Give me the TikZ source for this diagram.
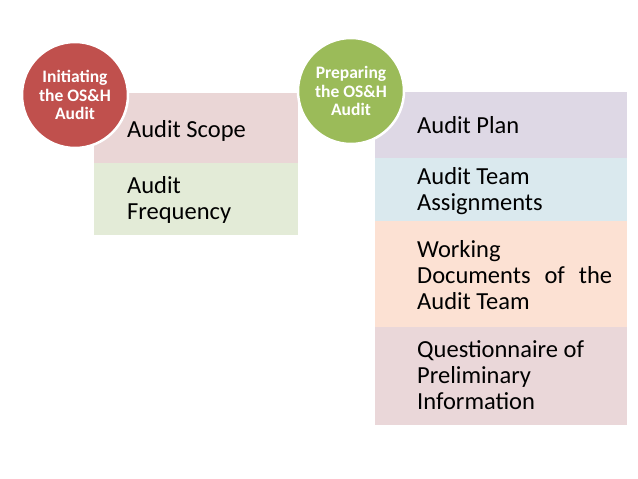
\documentclass[tikz,border=0pt]{standalone}
\usepackage{fontspec}
\setmainfont{Carlito}
\definecolor{redC}{RGB}{192,80,77}
\definecolor{greenC}{RGB}{155,187,89}
\definecolor{scopeF}{RGB}{234,214,214}
\definecolor{freqF}{RGB}{227,235,215}
\definecolor{planF}{RGB}{222,216,229}
\definecolor{teamF}{RGB}{218,233,238}
\definecolor{workF}{RGB}{252,225,211}
\definecolor{questF}{RGB}{234,215,217}
\begin{document}
\begin{tikzpicture}[x=1pt,y=-1pt,
  box/.style={draw=none,inner sep=0pt,anchor=north west},
  circ/.style={circle,draw=white,line width=2.5pt,minimum size=106pt,inner sep=0pt,text=white,font=\fontsize{17.5}{18.5}\selectfont\bfseries,align=center},
  txt/.style={anchor=base west,inner sep=0pt,font=\fontsize{24.5}{26.3}\selectfont,align=left}]
\useasboundingbox (0,0) rectangle (638,479);
\fill[white] (0,0) rectangle (638,479);
% left group
\node[box,fill=scopeF,minimum width=204pt,minimum height=70pt] (scope) at (94,93) {};
\node[box,fill=freqF,minimum width=204pt,minimum height=72pt] (freq) at (94,163) {};
\node[circ,fill=redC] (init) at (75,95) {Initiating\\the OS\&H\\Audit};
\node[txt] (tscope) at (127,137) {Audit Scope};
\node[txt] (tfreq) at (127,219.3) {Audit\\Frequency};
% right group
\node[box,fill=planF,minimum width=252pt,minimum height=66pt] (plan) at (375,92) {};
\node[box,fill=teamF,minimum width=252pt,minimum height=63pt] (team) at (375,158) {};
\node[box,fill=workF,minimum width=252pt,minimum height=106pt] (work) at (375,221) {};
\node[box,fill=questF,minimum width=252pt,minimum height=98pt] (quest) at (375,327) {};
\node[circ,fill=greenC] (prep) at (351,91) {Preparing\\the OS\&H\\Audit};
\node[txt] (tplan) at (417,133) {Audit Plan};
\node[txt] (tteam) at (417,210.3) {Audit Team\\Assignments};
\node[txt] (twork) at (417,309.6) {Working\\\hbox to 195pt{Documents\hfill of\hfill the}\\Audit Team};
\node[txt] (tquest) at (417,409.6) {Questionnaire of\\Preliminary\\Information};
\end{tikzpicture}
\end{document}
